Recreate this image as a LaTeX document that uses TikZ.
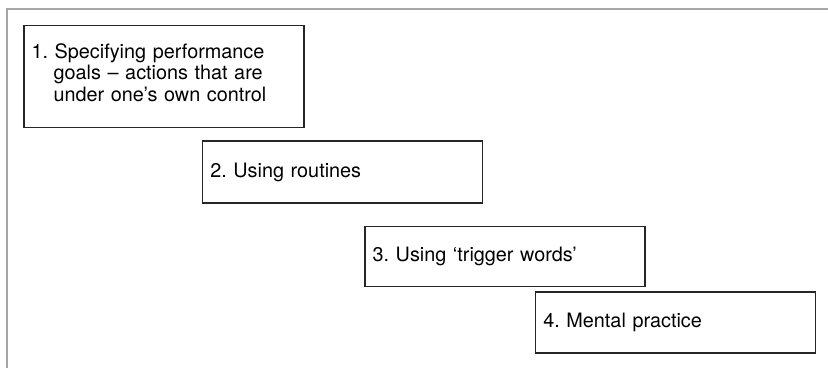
\documentclass[tikz,border=0pt]{standalone}
\usepackage{fontspec}
\setmainfont{TeX Gyre Heros}
\frenchspacing
\begin{document}
\begin{tikzpicture}[x=0.025cm, y=-0.025cm,
	stagebox/.style={rectangle, draw=black!85, line width=0.8pt, inner xsep=0.19cm, inner ysep=0pt,
		text width=6.62cm, minimum width=7cm, align=left, font=\fontsize{14.1pt}{15.4pt}\selectfont}]
	\useasboundingbox (0,0) rectangle (828,368);
	%outer frame
	\draw[black!35, line width=1.4pt] (7,368) -- (7,9) -- (828,9);
	
	%stages, one step down and right each
	\node (goals) at (164, 76.5) [stagebox, text height=0.83cm, text depth=1.74cm]{1. Specifying performance\\\hspace*{1.112em}goals -- actions that are\\\hspace*{1.112em}under one’s own control};
	\node (routines) at (342.7, 172) [stagebox, minimum height=1.55cm]{2. Using routines};
	\node (trigger) at (505, 256.9) [stagebox, minimum height=1.5cm]{3. Using ‘trigger words’};
	\node (mental) at (675.7, 322.5) [stagebox, minimum height=1.525cm]{4. Mental practice};
\end{tikzpicture}
\end{document}
